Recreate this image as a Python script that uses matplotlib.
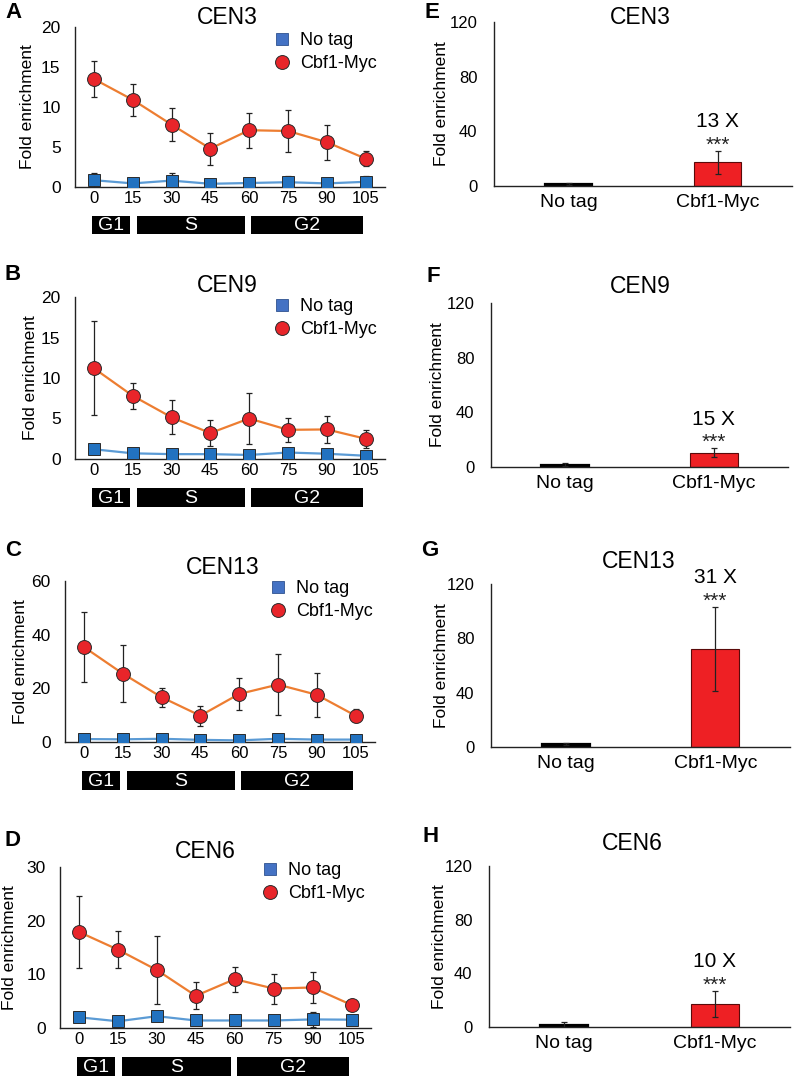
import matplotlib
matplotlib.use("Agg")
import matplotlib.pyplot as plt
from matplotlib.lines import Line2D

plt.rcParams['font.family'] = ['Liberation Sans', 'DejaVu Sans']

W, H = 797, 1078

# ---- time course data (A-D) ----
times = ['0', '15', '30', '45', '60', '75', '90', '105']
phase_labels = ['G1', 'S', 'G2']
phase_start = [-0.05, 1.1, 4.05]   # in time-point index units
phase_end = [0.93, 3.9, 6.93]

cen3_notag = [0.85, 0.45, 0.8, 0.4, 0.5, 0.6, 0.45, 0.65]
cen3_notag_err = [0.9, 0.2, 1.0, 0.2, 0.2, 0.8, 0.2, 0.75]
cen3_myc = [13.5, 10.9, 7.8, 4.8, 7.1, 7.0, 5.6, 3.55]
cen3_myc_err = [2.2, 2.0, 2.1, 2.0, 2.2, 2.6, 2.2, 0.9]

cen9_notag = [1.2, 0.7, 0.6, 0.6, 0.5, 0.8, 0.65, 0.4]
cen9_notag_err = [0.3, 0.2, 0.2, 0.2, 0.2, 0.3, 0.2, 0.2]
cen9_myc = [11.2, 7.8, 5.15, 3.2, 5.0, 3.6, 3.65, 2.5]
cen9_myc_err = [5.8, 1.6, 2.1, 1.65, 3.2, 1.45, 1.65, 1.1]

cen13_notag = [1.1, 1.0, 1.2, 0.8, 0.6, 1.2, 0.9, 0.9]
cen13_notag_err = [0.3, 0.3, 0.3, 0.3, 0.3, 0.3, 0.3, 0.3]
cen13_myc = [35.4, 25.5, 16.7, 9.8, 17.9, 21.4, 17.6, 9.8]
cen13_myc_err = [12.9, 10.5, 3.5, 3.7, 5.8, 11.5, 8.1, 2.5]

cen6_notag = [2.0, 1.25, 2.2, 1.4, 1.4, 1.4, 1.6, 1.55]
cen6_notag_err = [0.3, 0.3, 0.3, 0.3, 0.3, 0.3, 1.4, 0.3]
cen6_myc = [17.9, 14.6, 10.8, 6.0, 9.1, 7.35, 7.55, 4.3]
cen6_myc_err = [6.7, 3.5, 6.4, 2.5, 2.3, 2.8, 2.9, 0.5]

# ---- bar data (E-H) ----
groups = ['No tag', 'Cbf1-Myc']
cen3_bar = [1.4, 17.4]
cen3_bar_err = [0.5, 8.5]
cen9_bar = [1.8, 10.5]
cen9_bar_err = [1.0, 3.2]
cen13_bar = [2.3, 72.2]
cen13_bar_err = [0.8, 31.0]
cen6_bar = [1.8, 17.1]
cen6_bar_err = [2.0, 9.7]
fold_labels = ['13 X', '15 X', '31 X', '10 X']

BLUE_MK = '#2272C0'
BLUE_LN = '#5B9BD5'
ORANGE = '#ED7D31'
RED = '#E8252A'
EDGE = '#2a2a2a'

fig = plt.figure(figsize=(W / 100, H / 100), dpi=100)


def px_axes(l, t, r, b):
    return fig.add_axes([l / W, 1 - b / H, (r - l) / W, (b - t) / H])


def fig_text(x, y, s, **kw):
    fig.text(x / W, 1 - y / H, s, ha='center', va='center', **kw)


def style(ax):
    for s in ['top', 'right']:
        ax.spines[s].set_visible(False)
    for s in ['left', 'bottom']:
        ax.spines[s].set_linewidth(1.0)
        ax.spines[s].set_color('#222222')
    ax.tick_params(length=0)


def time_panel(box, phase_y, yticks, notag, notag_err, myc, myc_err,
               title, title_xy, leg_xy, ylab_x):
    l, t, r, b = box
    ax = px_axes(l, t, r, b)
    style(ax)
    x = list(range(len(times)))
    ax.errorbar(x, notag, yerr=notag_err, fmt='none', ecolor='#222222',
                elinewidth=0.9, capsize=2.5, capthick=0.9, zorder=2)
    ax.plot(x, notag, color=BLUE_LN, lw=1.6, marker='s', ms=8.5,
            mfc=BLUE_MK, mec=EDGE, mew=0.7, zorder=3)
    ax.errorbar(x, myc, yerr=myc_err, fmt='none', ecolor='#222222',
                elinewidth=0.9, capsize=2.5, capthick=0.9, zorder=4)
    ax.plot(x, myc, color=ORANGE, lw=1.6, marker='o', ms=10,
            mfc=RED, mec=EDGE, mew=0.7, zorder=5)
    ax.set_xlim(-0.5, len(times) - 0.5)
    ax.set_ylim(yticks[0], yticks[-1])
    ax.set_yticks(yticks)
    ax.set_xticks(x)
    ax.set_xticklabels(times)
    ax.tick_params(axis='x', labelsize=12, pad=3)
    ax.tick_params(axis='y', labelsize=12.5, pad=10)
    ax.set_ylabel('Fold enrichment', fontsize=12.5, va='center')
    ax.yaxis.set_label_coords((ylab_x - l) / (r - l), 0.5)

    handles = [Line2D([], [], ls='none', marker='s', ms=8.5, mfc='#4472C4',
                      mec='#2F528F', mew=0.6, label='No tag'),
               Line2D([], [], ls='none', marker='o', ms=10, mfc=RED,
                      mec=EDGE, mew=0.7, label='Cbf1-Myc')]
    ax.legend(handles=handles, loc='center left', frameon=False, fontsize=13,
              bbox_to_anchor=(leg_xy[0] / W, 1 - leg_xy[1] / H),
              bbox_transform=fig.transFigure, borderpad=0, borderaxespad=0,
              handlelength=1.0, handletextpad=0.5, labelspacing=0.35)

    # cell-cycle phase bar
    pax = px_axes(l, phase_y[0], r, phase_y[1])
    pax.set_xlim(-0.5, len(times) - 0.5)
    pax.set_ylim(0, 1)
    pax.axis('off')
    for lab, s0, s1 in zip(phase_labels, phase_start, phase_end):
        pax.barh(0.5, s1 - s0, left=s0, height=1.0, color='black')
        pax.text((s0 + s1) / 2, 0.45, lab, color='white', fontsize=14,
                 ha='center', va='center')

    fig_text(*title_xy, title, fontsize=16.5)
    return ax


def bar_panel(box, vals, errs, fold, title, title_xy, ylab_x):
    l, t, r, b = box
    ax = px_axes(l, t, r, b)
    style(ax)
    x = [0, 1]
    ax.bar(x, vals, width=0.32, color=['black', '#EE2024'],
           edgecolor=['black', '#5a0a0a'], linewidth=[1.6, 0.8], zorder=2)
    ax.errorbar(x, vals, yerr=errs, fmt='none', ecolor='#222222',
                elinewidth=0.9, capsize=2.5, capthick=0.9, zorder=3)
    ax.set_xlim(-0.5, 1.5)
    ax.set_ylim(0, 120)
    ax.set_yticks([0, 40, 80, 120])
    ax.set_xticks(x)
    ax.set_xticklabels(groups)
    ax.tick_params(axis='x', labelsize=14, pad=6)
    ax.tick_params(axis='y', labelsize=12, pad=12)
    ax.set_ylabel('Fold enrichment', fontsize=12.5, va='center')
    ax.yaxis.set_label_coords((ylab_x - l) / (r - l), 0.5)
    top = vals[1] + errs[1]
    ax.annotate('***', (1, top), xytext=(0, 0), textcoords='offset points',
                ha='center', va='baseline', fontsize=15, color='#222222',
                annotation_clip=False)
    ax.annotate(fold, (1, top), xytext=(0, 17), textcoords='offset points',
                ha='center', va='baseline', fontsize=15,
                annotation_clip=False)
    fig_text(*title_xy, title, fontsize=16.5)
    return ax


time_panel((74.5, 27, 385, 187), (216, 234), [0, 5, 10, 15, 20],
           cen3_notag, cen3_notag_err, cen3_myc, cen3_myc_err,
           'CEN3', (227, 18), (273, 52), 28)
time_panel((74.5, 297, 385, 459), (488, 507), [0, 5, 10, 15, 20],
           cen9_notag, cen9_notag_err, cen9_myc, cen9_myc_err,
           'CEN9', (227, 285), (273, 318), 31)
time_panel((64.5, 581, 375, 742), (771, 790), [0, 20, 40, 60],
           cen13_notag, cen13_notag_err, cen13_myc, cen13_myc_err,
           'CEN13', (223, 568), (269, 600), 21)
time_panel((59.5, 867, 371, 1028), (1057, 1076), [0, 10, 20, 30],
           cen6_notag, cen6_notag_err, cen6_myc, cen6_myc_err,
           'CEN6', (205, 852), (261, 882), 9)

bar_panel((494, 22, 792, 186), cen3_bar, cen3_bar_err, fold_labels[0],
          'CEN3', (640, 18), 442)
bar_panel((491, 303, 788, 467), cen9_bar, cen9_bar_err, fold_labels[1],
          'CEN9', (640, 287), 438)
bar_panel((491, 584, 790, 747), cen13_bar, cen13_bar_err, fold_labels[2],
          'CEN13', (639, 562), 442)
bar_panel((489, 866, 790, 1027), cen6_bar, cen6_bar_err, fold_labels[3],
          'CEN6', (632, 843), 440)

# panel letters
letters = ['A', 'B', 'C', 'D', 'E', 'F', 'G', 'H']
letter_pos = [(13, 12), (13, 275), (13, 550), (13, 840),
              (432, 12), (433, 277), (430, 550), (431, 837)]
for lab, (lx, ly) in zip(letters, letter_pos):
    fig_text(lx, ly, lab, fontsize=16, fontweight='bold')

fig.savefig('out.png', dpi=100)
